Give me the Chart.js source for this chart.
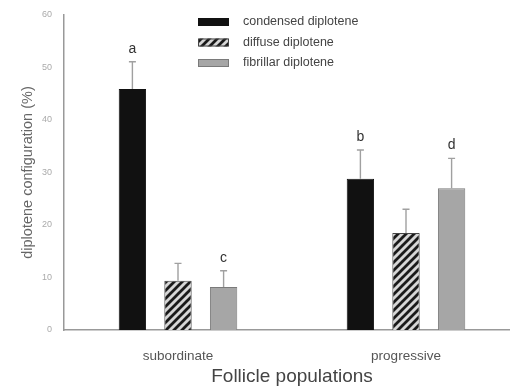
<!DOCTYPE html>
<html>
<head>
  <meta charset="utf-8" />
  <title>Diplotene configuration</title>
  <style>
    body { margin: 0; background: #fff; overflow: hidden; }
    #wrap { width: 520px; height: 390px; }
  </style>
</head>
<body>
  <div id="wrap"><canvas id="chart" width="520" height="390"></canvas></div>

  <script src="https://cdn.jsdelivr.net/npm/chart.js"></script>
  <script>
    const categories = ['subordinate', 'progressive'];
    const seriesNames = ['condensed diplotene', 'diffuse diplotene', 'fibrillar diplotene'];
    const condensed = [45.9, 28.8];
    const condensedErr = [5.2, 5.5];
    const diffuse = [9.4, 18.5];
    const diffuseErr = [3.3, 4.5];
    const fibrillar = [8.2, 27.0];
    const fibrillarErr = [3.1, 5.7];
    const letters = [['a', 'b'], ['', ''], ['c', 'd']];
    const yTicks = [0, 10, 20, 30, 40, 50, 60];

    const FONT = '"Liberation Sans", Arial, sans-serif';

    // diagonal hatch for diffuse diplotene
    function hatch() {
      const c = document.createElement('canvas');
      c.width = 8; c.height = 8;
      const g = c.getContext('2d');
      g.fillStyle = '#d6d6d6';
      g.fillRect(0, 0, 8, 8);
      g.strokeStyle = '#1a1a1a';
      g.lineWidth = 2.8;
      g.beginPath();
      g.moveTo(-2, 10); g.lineTo(10, -2);
      g.moveTo(-2, 2); g.lineTo(2, -2);
      g.moveTo(6, 10); g.lineTo(10, 6);
      g.stroke();
      return g.createPattern(c, 'repeat');
    }
    const hatchFill = hatch();

    const fills = ['#111111', hatchFill, '#a6a6a6'];
    const borders = ['#111111', '#444444', '#7a7a7a'];
    const errs = [condensedErr, diffuseErr, fibrillarErr];

    const extras = {
      id: 'extras',
      afterDatasetsDraw(chart) {
        const ctx = chart.ctx;
        const y = chart.scales.y;
        ctx.save();
        chart.data.datasets.forEach((ds, di) => {
          const meta = chart.getDatasetMeta(di);
          meta.data.forEach((bar, i) => {
            const top = y.getPixelForValue(ds.data[i] + errs[di][i]);
            ctx.strokeStyle = '#a0a0a0';
            ctx.lineWidth = 1.4;
            ctx.beginPath();
            ctx.moveTo(bar.x, bar.y);
            ctx.lineTo(bar.x, top);
            ctx.moveTo(bar.x - 3.5, top);
            ctx.lineTo(bar.x + 3.5, top);
            ctx.stroke();
            if (letters[di][i]) {
              ctx.fillStyle = '#333';
              ctx.font = '14px ' + FONT;
              ctx.textAlign = 'center';
              ctx.textBaseline = 'bottom';
              ctx.fillText(letters[di][i], bar.x, top - 6);
            }
          });
        });

        // legend
        ctx.font = '12.5px ' + FONT;
        ctx.textAlign = 'left';
        ctx.textBaseline = 'middle';
        seriesNames.forEach((name, k) => {
          const ly = 22 + k * 20.5;
          ctx.fillStyle = fills[k];
          ctx.fillRect(198, ly - 4, 31, 8);
          ctx.strokeStyle = borders[k];
          ctx.lineWidth = 1;
          ctx.strokeRect(198.5, ly - 3.5, 30, 7);
          ctx.fillStyle = '#444';
          ctx.fillText(name, 243, ly);
        });
        ctx.restore();
      }
    };

    new Chart(document.getElementById('chart'), {
      type: 'bar',
      data: {
        labels: categories,
        datasets: [
          { label: seriesNames[0], data: condensed },
          { label: seriesNames[1], data: diffuse },
          { label: seriesNames[2], data: fibrillar }
        ].map((d, k) => Object.assign(d, {
          backgroundColor: fills[k],
          borderColor: borders[k],
          borderWidth: 1,
          categoryPercentage: 0.6,
          barPercentage: 0.6
        }))
      },
      options: {
        responsive: false,
        animation: false,
        layout: { padding: { top: 15, right: 0, left: 19, bottom: 0 } },
        plugins: { legend: { display: false }, tooltip: { enabled: false } },
        scales: {
          x: {
            offset: true,
            grid: { display: false, drawTicks: false },
            border: { color: '#999', width: 1.5 },
            ticks: { color: '#555', font: { family: FONT, size: 13.5 }, padding: 18 },
            title: {
              display: true, text: 'Follicle populations', color: '#444',
              font: { family: FONT, size: 19 }, padding: { top: 2, bottom: 2 }
            },
            afterFit(s) { s.height = 60; }
          },
          y: {
            min: 0, max: 60,
            afterBuildTicks(s) { s.ticks = yTicks.map(v => ({ value: v })); },
            grid: { display: false, drawOnChartArea: false, drawTicks: true, tickLength: 3, tickColor: '#999' },
            border: { color: '#999', width: 1.5 },
            ticks: { color: '#aaa', font: { family: FONT, size: 9 }, padding: 9 },
            title: {
              display: true, text: 'diplotene configuration (%)', color: '#666',
              font: { family: FONT, size: 14.5 }, padding: 0
            },
            afterFit(s) { s.width = 45; }
          }
        }
      },
      plugins: [extras]
    });
  </script>
</body>
</html>
